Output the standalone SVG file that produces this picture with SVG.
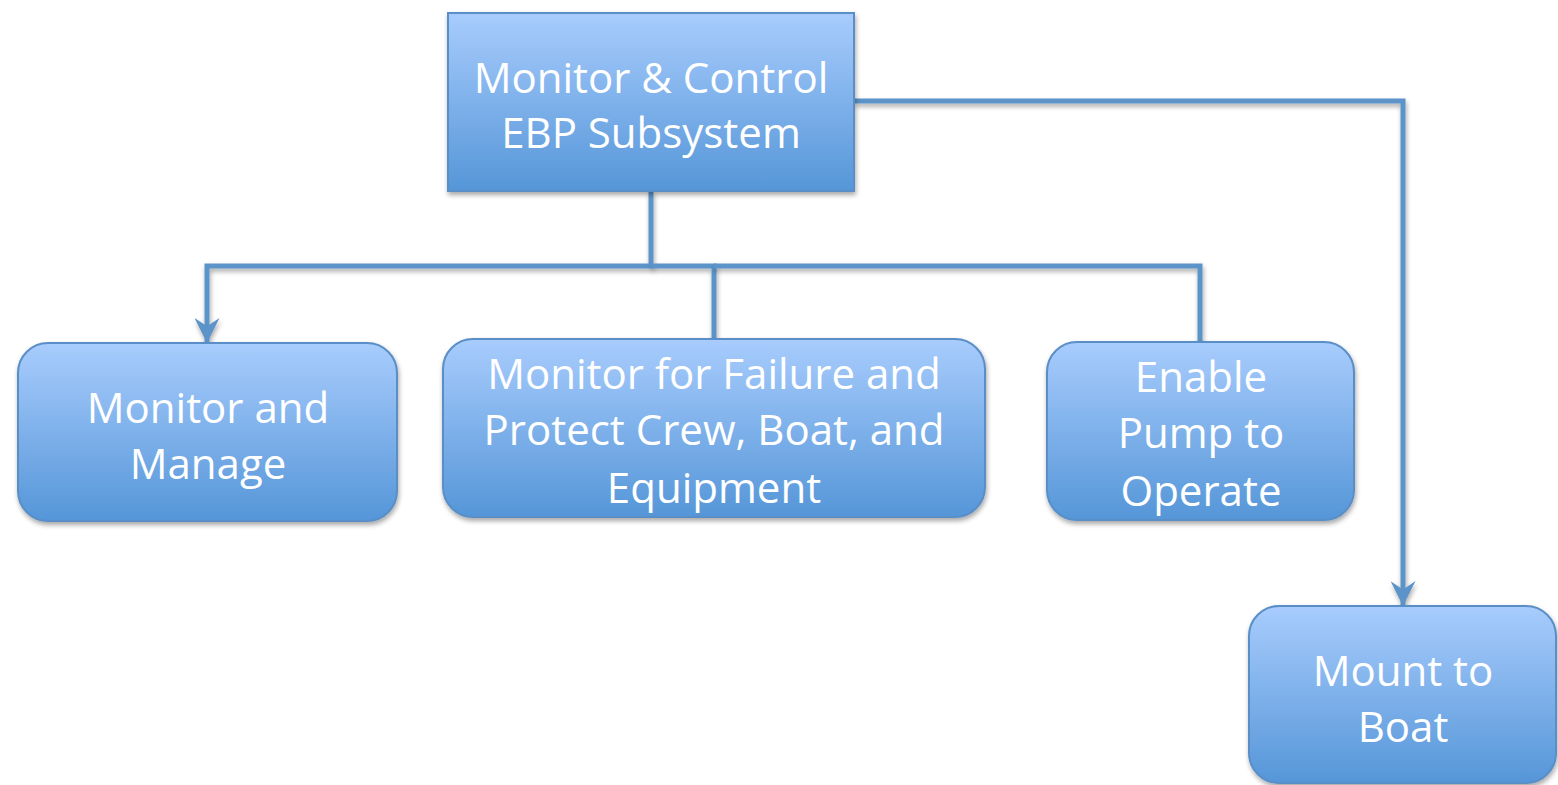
<svg xmlns="http://www.w3.org/2000/svg" width="1558" height="785" viewBox="0 0 1558 785">
<defs>
<linearGradient id="g" x1="0" y1="0" x2="0" y2="1">
<stop offset="0" stop-color="#a8ccfd"/>
<stop offset="1" stop-color="#5596d8"/>
</linearGradient>
<filter id="sh" x="-10%" y="-10%" width="130%" height="130%">
<feGaussianBlur in="SourceAlpha" stdDeviation="2.5"/>
<feOffset dx="1" dy="3" result="b"/>
<feComponentTransfer><feFuncA type="linear" slope="0.35"/></feComponentTransfer>
<feMerge><feMergeNode/><feMergeNode in="SourceGraphic"/></feMerge>
</filter>
<marker id="ah" viewBox="0 0 12 12" refX="11.5" refY="6" markerWidth="5" markerHeight="5" orient="auto" markerUnits="strokeWidth">
<path d="M0,0 L12,6 L0,12 L4,6 Z" fill="#5b93c9"/>
</marker>
<style>
.box{fill:url(#g);stroke:#5a8ec6;stroke-width:2;filter:url(#sh)}
.t{font-family:"Open Sans","Noto Sans",sans-serif;font-size:42px;fill:#ffffff;text-anchor:middle}
.c{fill:none;stroke:#5b93c9;stroke-width:5;filter:url(#sh)}
</style>
</defs>
<g id="connectors">
<path class="c" d="M651,191 V266 H207 V342" marker-end="url(#ah)"/>
<path class="c" d="M651,266 H714 V339"/>
<path class="c" d="M714,266 H1200 V342"/>
<path class="c" d="M854,101 H1403 V605" marker-end="url(#ah)"/>
</g>
<g id="n-top">
<rect class="box" x="448" y="13" width="406" height="178"/>
<text class="t" x="651" y="93">Monitor &amp; Control</text>
<text class="t" x="651" y="148">EBP Subsystem</text>
</g>
<g id="n-manage">
<rect class="box" x="18" y="343" width="379" height="178" rx="30"/>
<text class="t" x="208" y="423">Monitor and</text>
<text class="t" x="208" y="479">Manage</text>
</g>
<g id="n-failure">
<rect class="box" x="443" y="339" width="542" height="178" rx="30"/>
<text class="t" x="714" y="389">Monitor for Failure and</text>
<text class="t" x="714" y="445">Protect Crew, Boat, and</text>
<text class="t" x="714" y="503">Equipment</text>
</g>
<g id="n-enable">
<rect class="box" x="1047" y="342" width="307" height="178" rx="30"/>
<text class="t" x="1201" y="392">Enable</text>
<text class="t" x="1201" y="448">Pump to</text>
<text class="t" x="1201" y="506">Operate</text>
</g>
<g id="n-mount">
<rect class="box" x="1249" y="606" width="307" height="177" rx="30"/>
<text class="t" x="1403" y="686">Mount to</text>
<text class="t" x="1403" y="742">Boat</text>
</g>
</svg>
